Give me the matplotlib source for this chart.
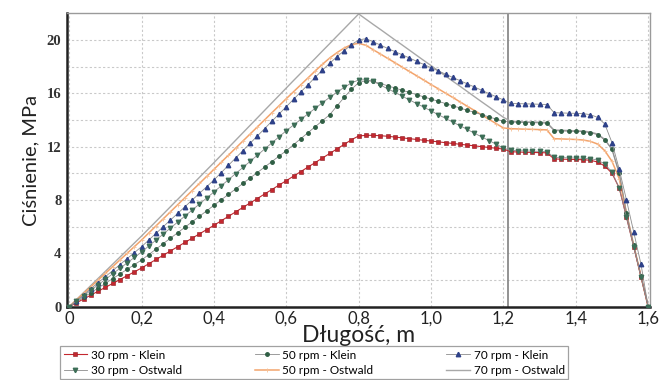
import numpy as np
import matplotlib
matplotlib.use("Agg")
import matplotlib.pyplot as plt

# Sampling positions along the barrel (m)
dlugosc = np.round(np.linspace(0, 1.6, 81), 2)

# Pressure profiles (MPa)
p30_klein = [
    0, 0.29, 0.58, 0.87, 1.16, 1.45, 1.74, 2.03, 2.32, 2.61, 2.90,
    3.22, 3.54, 3.86, 4.18, 4.50, 4.82, 5.14, 5.46, 5.78, 6.10,
    6.44, 6.77, 7.11, 7.44, 7.78, 8.11, 8.45, 8.78, 9.12, 9.45,
    9.79, 10.13, 10.47, 10.81, 11.15, 11.49, 11.83, 12.17, 12.52, 12.80,
    12.85, 12.85, 12.82, 12.78, 12.72, 12.66, 12.60, 12.54, 12.48, 12.42,
    12.36, 12.30, 12.24, 12.18, 12.12, 12.06, 12.00, 11.94, 11.88, 11.82,
    11.62, 11.60, 11.58, 11.57, 11.55, 11.54, 11.08, 11.06, 11.05, 11.04,
    11.02, 10.98, 10.85, 10.55, 10.00, 8.90, 6.70, 4.50, 2.25, 0.00,
]
p30_ostwald = [
    0, 0.41, 0.82, 1.23, 1.64, 2.05, 2.46, 2.87, 3.28, 3.69, 4.10,
    4.55, 5.00, 5.45, 5.90, 6.35, 6.80, 7.25, 7.70, 8.15, 8.60,
    9.06, 9.52, 9.98, 10.44, 10.90, 11.36, 11.82, 12.28, 12.74, 13.20,
    13.62, 14.04, 14.46, 14.88, 15.30, 15.70, 16.08, 16.45, 16.78, 17.00,
    17.02, 16.90, 16.62, 16.34, 16.07, 15.79, 15.51, 15.23, 14.96, 14.68,
    14.40, 14.12, 13.84, 13.57, 13.29, 13.01, 12.73, 12.46, 12.18, 11.90,
    11.72, 11.70, 11.68, 11.66, 11.65, 11.63, 11.20, 11.18, 11.16, 11.15,
    11.13, 11.10, 11.00, 10.70, 10.10, 8.90, 6.70, 4.50, 2.25, 0.00,
]
p50_klein = [
    0, 0.35, 0.70, 1.05, 1.40, 1.75, 2.10, 2.45, 2.80, 3.15, 3.50,
    3.91, 4.32, 4.73, 5.14, 5.55, 5.96, 6.37, 6.78, 7.19, 7.60,
    8.01, 8.42, 8.83, 9.24, 9.65, 10.06, 10.47, 10.88, 11.29, 11.70,
    12.15, 12.60, 13.05, 13.50, 13.95, 14.40, 15.05, 15.70, 16.30, 16.80,
    16.95, 16.90, 16.73, 16.57, 16.40, 16.23, 16.07, 15.90, 15.73, 15.57,
    15.40, 15.23, 15.07, 14.90, 14.73, 14.57, 14.40, 14.23, 14.07, 13.90,
    13.85, 13.83, 13.81, 13.80, 13.78, 13.76, 13.20, 13.18, 13.16, 13.14,
    13.12, 13.05, 12.90, 12.50, 11.80, 10.00, 7.00, 4.60, 2.30, 0.00,
]
p50_ostwald = [
    0, 0.50, 1.00, 1.50, 2.00, 2.50, 3.00, 3.50, 4.00, 4.50, 5.00,
    5.53, 6.06, 6.59, 7.12, 7.65, 8.18, 8.71, 9.24, 9.77, 10.30,
    10.83, 11.36, 11.89, 12.42, 12.95, 13.48, 14.01, 14.54, 15.07, 15.60,
    16.12, 16.64, 17.16, 17.68, 18.18, 18.65, 19.05, 19.40, 19.65, 19.75,
    19.60, 19.27, 18.95, 18.62, 18.30, 17.97, 17.64, 17.32, 16.99, 16.66,
    16.34, 16.01, 15.69, 15.36, 15.03, 14.71, 14.38, 14.05, 13.73, 13.40,
    13.35, 13.33, 13.31, 13.30, 13.28, 13.26, 12.60, 12.58, 12.56, 12.54,
    12.50, 12.40, 12.20, 11.70, 10.90, 9.60, 7.00, 4.60, 2.30, 0.00,
]
p70_klein = [
    0, 0.45, 0.90, 1.35, 1.80, 2.25, 2.70, 3.15, 3.60, 4.05, 4.50,
    5.00, 5.50, 6.00, 6.50, 7.00, 7.50, 8.00, 8.50, 9.00, 9.50,
    10.05, 10.60, 11.15, 11.70, 12.25, 12.80, 13.35, 13.90, 14.45, 15.00,
    15.55, 16.10, 16.65, 17.20, 17.75, 18.25, 18.75, 19.20, 19.65, 20.00,
    20.10, 19.86, 19.62, 19.37, 19.13, 18.89, 18.65, 18.41, 18.16, 17.92,
    17.68, 17.44, 17.19, 16.95, 16.71, 16.47, 16.23, 15.98, 15.74, 15.50,
    15.25, 15.23, 15.21, 15.20, 15.18, 15.16, 14.55, 14.53, 14.51, 14.50,
    14.48, 14.40, 14.20, 13.70, 12.30, 10.30, 8.00, 5.60, 3.20, 0.00,
]
p70_ostwald = [
    0, 0.53, 1.06, 1.59, 2.12, 2.65, 3.18, 3.71, 4.24, 4.77, 5.30,
    5.85, 6.40, 6.95, 7.50, 8.05, 8.60, 9.15, 9.70, 10.25, 10.80,
    11.36, 11.92, 12.48, 13.04, 13.60, 14.16, 14.72, 15.28, 15.84, 16.40,
    16.96, 17.51, 18.07, 18.62, 19.18, 19.73, 20.29, 20.84, 21.40, 21.95,
    21.56, 21.17, 20.79, 20.40, 20.01, 19.63, 19.24, 18.85, 18.46, 18.08,
    17.69, 17.30, 16.91, 16.53, 16.14, 15.75, 15.36, 14.98, 14.59, 14.20,
    13.90, 13.88, 13.86, 13.85, 13.83, 13.81, 13.25, 13.23, 13.21, 13.19,
    13.17, 13.10, 12.95, 12.55, 11.80, 10.00, 7.00, 4.60, 2.30, 0.00,
]

x_ticks = [0, 0.2, 0.4, 0.6, 0.8, 1.0, 1.2, 1.4, 1.6]
x_tick_labels = ["0", "0,2", "0,4", "0,6", "0,8", "1,0", "1,2", "1,4", "1,6"]
y_ticks = [0, 4, 8, 12, 16, 20]
y_minor = [2, 6, 10, 14, 18]
divider_x = 1.213  # section boundary line

fig = plt.figure(figsize=(6.6, 3.8), dpi=100)
ax = fig.add_axes([67 / 660, 1 - 306.7 / 380, 583 / 660, 293.4 / 380])

line_gray = "#8c8c8c"
# 70 rpm - Ostwald (plain gray line)
h70o, = ax.plot(dlugosc, p70_ostwald, color="#a8a8a8", lw=1.0, zorder=2,
                label="70 rpm - Ostwald")
# 50 rpm - Ostwald (orange, small plus markers)
h50o, = ax.plot(dlugosc, p50_ostwald, color="#f3a46c", lw=1.1, marker="+",
                ms=2.6, mew=0.6, mec="#f6bf95", zorder=3, label="50 rpm - Ostwald")
# 30 rpm - Klein (red squares)
h30k, = ax.plot(dlugosc, p30_klein, color="#c4272f", lw=0.8, marker="s",
                ms=3.0, mfc="#c4272f", mec="#8e1a20", mew=0.4, zorder=4,
                label="30 rpm - Klein")
# 50 rpm - Klein (dark green dots)
h50k, = ax.plot(dlugosc, p50_klein, color=line_gray, lw=0.6, marker="o",
                ms=2.5, mfc="#2f5e44", mec="#2f5e44", zorder=5,
                label="50 rpm - Klein")
# 70 rpm - Klein (blue triangles)
h70k, = ax.plot(dlugosc, p70_klein, color=line_gray, lw=0.6, marker="^",
                ms=3.2, mfc="#2e4189", mec="#2e4189", zorder=5,
                label="70 rpm - Klein")
# 30 rpm - Ostwald (green down triangles)
h30o, = ax.plot(dlugosc, p30_ostwald, color=line_gray, lw=0.6, marker="v",
                ms=3.2, mfc="#3d6e57", mec="#3d6e57", zorder=6,
                label="30 rpm - Ostwald")

ax.axvline(divider_x, color="#8a8a8a", lw=1.3, zorder=1)

ax.set_xlim(-0.006, 1.605)
ax.set_ylim(0, 22)
ax.set_xticks(x_ticks)
ax.set_xticklabels(x_tick_labels)
ax.set_yticks(y_ticks)
ax.set_yticks(y_minor, minor=True)

ax.grid(True, which="major", color="#c9c9c9", lw=0.8, ls=(0, (2, 2)))
ax.grid(True, which="minor", axis="y", color="#c9c9c9", lw=0.8, ls=(0, (2, 2)))
ax.set_axisbelow(True)

for side in ["left", "bottom"]:
    ax.spines[side].set_color("#222222")
    ax.spines[side].set_linewidth(1.8)
for side in ["top", "right"]:
    ax.spines[side].set_color("#9a9a9a")
    ax.spines[side].set_linewidth(1.0)

ax.tick_params(axis="both", which="both", length=0)
ax.tick_params(axis="x", pad=3)
ax.tick_params(axis="y", pad=4)
for lbl in ax.get_xticklabels():
    lbl.set_fontfamily("Lato")
    lbl.set_fontsize(12)
    lbl.set_color("#222222")
for lbl in ax.get_yticklabels():
    lbl.set_fontfamily("Liberation Serif")
    lbl.set_fontsize(10.5)
    lbl.set_fontweight("bold")
    lbl.set_color("#333333")

ax.set_xlabel("Długość, m", fontfamily="Lato", fontsize=16.5, color="#222222",
              labelpad=-1)
ax.set_ylabel("Ciśnienie, MPa", fontfamily="Lato", fontsize=14.5,
              color="#222222", labelpad=5)

handles = [h30k, h30o, h50k, h50o, h70k, h70o]
leg = fig.legend(handles=handles, labels=[h.get_label() for h in handles],
                 loc="upper left", bbox_to_anchor=(60 / 660, 1 - 346 / 380),
                 ncol=3, frameon=True, fancybox=False, edgecolor="#8a8a8a",
                 prop={"family": "Lato", "size": 8.5}, labelspacing=0.35,
                 handlelength=2.0, handletextpad=0.3, columnspacing=6.2,
                 borderpad=0.3, borderaxespad=0)
leg.get_frame().set_linewidth(0.9)

fig.savefig("out.png", dpi=100)
